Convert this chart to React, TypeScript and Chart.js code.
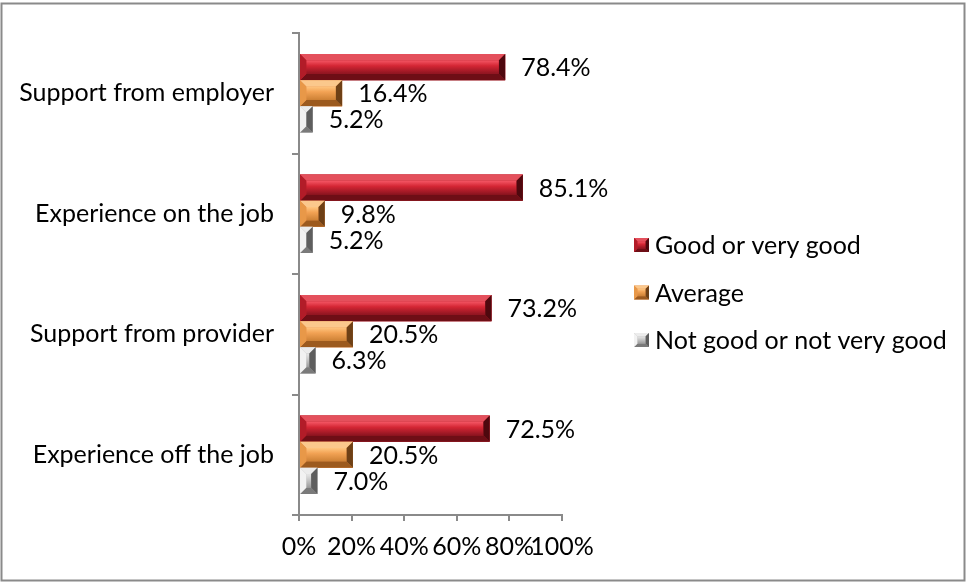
import React, { useEffect, useRef } from "react";
import { Chart, registerables } from "chart.js";

Chart.register(...registerables);

// Survey results by aspect of the apprenticeship
const categories = [
  "Support from employer",
  "Experience on the job",
  "Support from provider",
  "Experience off the job",
];
const seriesNames = ["Good or very good", "Average", "Not good or not very good"];
const goodValues = [78.4, 85.1, 73.2, 72.5];
const averageValues = [16.4, 9.8, 20.5, 20.5];
const notGoodValues = [5.2, 5.2, 6.3, 7.0];
const xTickValues = [0, 20, 40, 60, 80, 100];

// Bevelled fill palettes, one per series
type Palette = {
  base: string;
  top: string;
  bottom: string;
  left: string;
  right: string;
  faceTop: string;
  faceMid: string;
  faceBottom: string;
};

const palettes: Palette[] = [
  {
    base: "#c0202c",
    top: "#e4505c",
    bottom: "#6e0e16",
    left: "#b21c28",
    right: "#4e080e",
    faceTop: "#f45664",
    faceMid: "#d42634",
    faceBottom: "#8c1420",
  },
  {
    base: "#e8904a",
    top: "#fbc88c",
    bottom: "#9c5a1e",
    left: "#e89848",
    right: "#6e4016",
    faceTop: "#ffc680",
    faceMid: "#f2a254",
    faceBottom: "#cc8034",
  },
  {
    base: "#b4b4b4",
    top: "#ececec",
    bottom: "#7a7a7a",
    left: "#f2f2f2",
    right: "#5e5e5e",
    faceTop: "#e8e8e8",
    faceMid: "#cacaca",
    faceBottom: "#9a9a9a",
  },
];

const FONT = "Lato, 'Open Sans', sans-serif";
const FONT_SIZE = 25;
const AXIS_GRAY = "#8a8a8a";

function drawBevel(
  ctx: CanvasRenderingContext2D,
  x0: number,
  x1: number,
  y0: number,
  y1: number,
  p: Palette
) {
  const w = x1 - x0;
  const h = y1 - y0;
  if (w <= 0 || h <= 0) return;
  const d = Math.min(h * 0.24, w / 2);
  ctx.save();
  ctx.fillStyle = p.base;
  ctx.fillRect(x0, y0, w, h);

  const poly = (pts: number[][], fill: string | CanvasGradient) => {
    ctx.beginPath();
    ctx.moveTo(pts[0][0], pts[0][1]);
    for (let i = 1; i < pts.length; i++) ctx.lineTo(pts[i][0], pts[i][1]);
    ctx.closePath();
    ctx.fillStyle = fill;
    ctx.fill();
  };

  // inner face
  const g = ctx.createLinearGradient(0, y0 + d, 0, y1 - d);
  g.addColorStop(0, p.faceTop);
  g.addColorStop(0.4, p.faceMid);
  g.addColorStop(1, p.faceBottom);
  ctx.fillStyle = g;
  ctx.fillRect(x0 + d, y0 + d, w - 2 * d, h - 2 * d);

  poly([[x0, y0], [x1, y0], [x1 - d, y0 + d], [x0 + d, y0 + d]], p.top);
  poly([[x0, y1], [x1, y1], [x1 - d, y1 - d], [x0 + d, y1 - d]], p.bottom);
  poly([[x0, y0], [x0 + d, y0 + d], [x0 + d, y1 - d], [x0, y1]], p.left);
  poly([[x1, y0], [x1 - d, y0 + d], [x1 - d, y1 - d], [x1, y1]], p.right);
  ctx.restore();
}

const framePlugin = {
  id: "frame",
  beforeDraw(chart: Chart) {
    const ctx = chart.ctx;
    ctx.save();
    ctx.fillStyle = "#ffffff";
    ctx.fillRect(0, 0, chart.width, chart.height);
    ctx.strokeStyle = AXIS_GRAY;
    ctx.lineWidth = 2;
    ctx.strokeRect(1.5, 3.5, 963, 577);
    ctx.restore();
  },
};

const bevelBarsPlugin = {
  id: "bevelBars",
  afterDatasetsDraw(chart: Chart) {
    const ctx = chart.ctx;
    chart.data.datasets.forEach((ds, di) => {
      const meta = chart.getDatasetMeta(di);
      meta.data.forEach((el: any, i: number) => {
        const { x, y, base, height } = el.getProps(["x", "y", "base", "height"], true);
        drawBevel(ctx, base, x, y - height / 2, y + height / 2, palettes[di]);
        const v = ds.data[i] as number;
        ctx.save();
        ctx.fillStyle = "#000000";
        ctx.font = `${FONT_SIZE}px ${FONT}`;
        ctx.textAlign = "left";
        ctx.textBaseline = "middle";
        ctx.fillText(`${v.toFixed(1)}%`, x + 16, y + 1);
        ctx.restore();
      });
    });
  },
};

const legendPlugin = {
  id: "bevelLegend",
  afterDraw(chart: Chart) {
    const ctx = chart.ctx;
    const left = 634;
    const firstY = 245;
    const step = 47.5;
    chart.data.datasets.forEach((ds, di) => {
      const cy = firstY + di * step;
      drawBevel(ctx, left, left + 15, cy - 7, cy + 7, palettes[di]);
      ctx.save();
      ctx.fillStyle = "#000000";
      ctx.font = `${FONT_SIZE}px ${FONT}`;
      ctx.textAlign = "left";
      ctx.textBaseline = "middle";
      ctx.fillText(String(ds.label), left + 21, cy + 1);
      ctx.restore();
    });
  },
};

export default function App() {
  const canvasRef = useRef<HTMLCanvasElement | null>(null);

  useEffect(() => {
    if (!canvasRef.current) return;
    const values = [goodValues, averageValues, notGoodValues];
    const chart = new Chart(canvasRef.current, {
      type: "bar",
      data: {
        labels: categories,
        datasets: seriesNames.map((name, i) => ({
          label: name,
          data: values[i],
          backgroundColor: palettes[i].base,
          borderWidth: 0,
          categoryPercentage: 0.65,
          barPercentage: 1,
        })),
      },
      options: {
        indexAxis: "y",
        responsive: false,
        animation: false,
        devicePixelRatio: 1,
        layout: { padding: { top: 33, right: 404, bottom: 0, left: 0 } },
        plugins: {
          legend: { display: false },
          tooltip: { enabled: false },
        },
        scales: {
          y: {
            type: "category",
            offset: true,
            grid: {
              offset: true,
              drawOnChartArea: false,
              drawTicks: true,
              tickLength: 7,
              color: AXIS_GRAY,
              lineWidth: 2,
            },
            border: { display: true, color: AXIS_GRAY, width: 2 },
            ticks: {
              color: "#000000",
              font: { family: FONT, size: FONT_SIZE },
              padding: 18,
            },
            afterFit: (scale: any) => {
              scale.width = 299;
            },
          },
          x: {
            type: "linear",
            min: 0,
            max: 100,
            afterBuildTicks: (scale: any) => {
              scale.ticks = xTickValues.map((v) => ({ value: v }));
            },
            grid: {
              drawOnChartArea: false,
              drawTicks: true,
              tickLength: 6,
              color: AXIS_GRAY,
              lineWidth: 2,
            },
            border: { display: true, color: AXIS_GRAY, width: 2 },
            ticks: {
              color: "#000000",
              font: { family: FONT, size: FONT_SIZE },
              padding: 11,
              autoSkip: false,
              maxRotation: 0,
              callback: (v: any) => `${v}%`,
            },
            afterFit: (scale: any) => {
              scale.height = 67;
            },
          },
        },
      },
      plugins: [framePlugin, bevelBarsPlugin, legendPlugin],
    });
    return () => chart.destroy();
  }, []);

  return (
    <div style={{ position: "fixed", left: 0, top: 0, width: 966, height: 582, background: "#fff" }}>
      <canvas ref={canvasRef} width={966} height={582} style={{ display: "block" }} />
    </div>
  );
}
